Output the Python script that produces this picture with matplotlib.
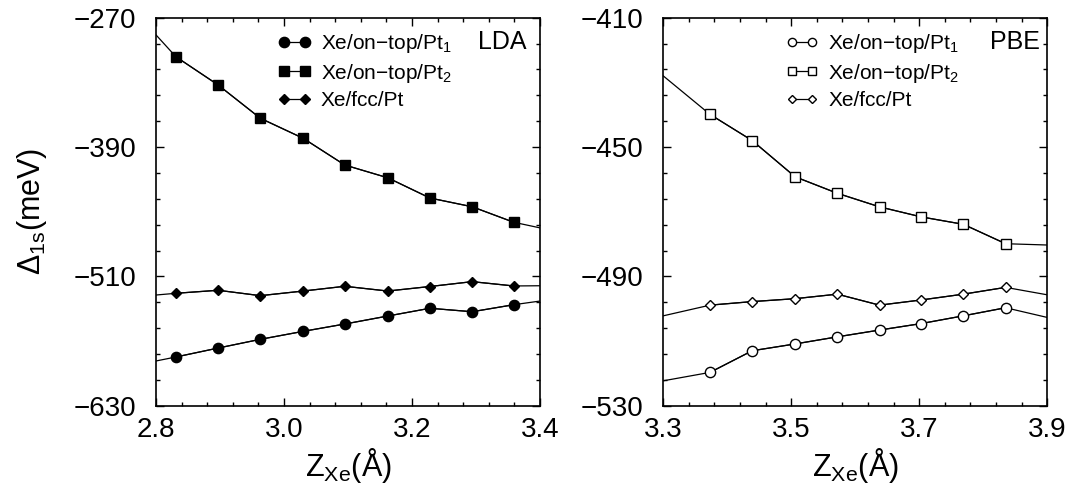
#!/usr/bin/env python3

import matplotlib
matplotlib.use("Agg")
import matplotlib.pyplot as plt
import numpy as np

plt.rcParams['font.family'] = ['Liberation Sans', 'DejaVu Sans']
plt.rcParams['mathtext.fontset'] = 'custom'
plt.rcParams['mathtext.rm'] = 'Liberation Sans'
plt.rcParams['mathtext.it'] = 'Liberation Sans:italic'


##########################################################################
# DATA
##########################################################################

# LDA, Xe height above the surface (Angstrom)
lda_z = [2.831, 2.897, 2.963, 3.030, 3.095, 3.162, 3.228, 3.294, 3.359]
lda_top1 = [-584.8, -576.5, -568.4, -561.0, -554.2, -546.8, -539.6, -542.8, -536.3]
lda_top2 = [-306.2, -332.4, -363.3, -381.9, -406.7, -418.5, -437.3, -445.4, -459.8]
lda_fcc = [-525.7, -522.9, -527.9, -523.6, -519.2, -523.6, -519.4, -514.9, -518.9]

# line ends at the frame edges (x = 2.8 and x = 3.4)
lda_edge_z = [2.8, 3.4]
lda_top1_edge = [-588.5, -532.9]
lda_top2_edge = [-286.0, -465.0]
lda_fcc_edge = [-527.3, -518.7]

# PBE
pbe_z = [3.373, 3.439, 3.506, 3.572, 3.638, 3.703, 3.769, 3.835]
pbe_top1 = [-519.7, -513.0, -510.9, -508.7, -506.6, -504.6, -502.2, -499.7]
pbe_top2 = [-439.9, -448.0, -459.2, -464.3, -468.5, -471.6, -473.9, -479.9]
pbe_fcc = [-498.9, -497.8, -496.9, -495.5, -498.9, -497.3, -495.5, -493.4]

pbe_edge_z = [3.3, 3.9]
pbe_top1_edge = [-522.3, -502.7]
pbe_top2_edge = [-428.0, -480.3]
pbe_fcc_edge = [-502.2, -495.7]

labels = ["Xe/on\u2212top/Pt$_1$", "Xe/on\u2212top/Pt$_2$", "Xe/fcc/Pt"]

# axis ticks
lda_xticks = [2.8, 3.0, 3.2, 3.4]
lda_yticks = [-630, -510, -390, -270]
pbe_xticks = [3.3, 3.5, 3.7, 3.9]
pbe_yticks = [-530, -490, -450, -410]


##########################################################################
# GRAPHING
##########################################################################

def draw_panel(ax, z, series, edge_z, edges, filled, markers, sizes):
    for ys, e, m, s, lab in zip(series, edges, markers, sizes, labels):
        # full line running out to the frame
        ax.plot([edge_z[0]] + z + [edge_z[1]], [e[0]] + ys + [e[1]],
                "-", color="black", lw=0.9)
        ax.plot(z, ys, "-", color="black", lw=0.9, marker=m, markersize=s,
                markerfacecolor="black" if filled else "white",
                markeredgecolor="black", markeredgewidth=1.0, label=lab)

    ax.tick_params(which="both", direction="in", top=True, right=True,
                   labelsize=20, width=1.0)
    ax.tick_params(which="major", length=6, pad=14)
    ax.tick_params(which="minor", length=3)
    ax.tick_params(axis="x", which="major", pad=8)
    for sp in ax.spines.values():
        sp.set_linewidth(1.2)
    ax.set_xlabel(r"Z$_{\rm Xe}$(Å)", fontsize=22, labelpad=2)


def set_ticks(ax, xt, yt):
    ax.set_xlim(xt[0], xt[-1])
    ax.set_ylim(yt[0], yt[-1])
    ax.set_xticks(xt)
    ax.set_xticklabels(["%.1f" % v for v in xt])
    ax.set_yticks(yt)
    ax.set_yticklabels(["\u2212%d" % -v for v in yt])
    # five minor intervals per major one
    ax.set_xticks(np.linspace(xt[0], xt[-1], 5 * (len(xt) - 1) + 1), minor=True)
    ax.set_yticks(np.linspace(yt[0], yt[-1], 5 * (len(yt) - 1) + 1), minor=True)


fig = plt.figure(figsize=(10.71, 4.92), dpi=100)
ax1 = fig.add_axes([0.1457, 0.1754, 0.3585, 0.7886])
ax2 = fig.add_axes([0.6193, 0.1754, 0.3585, 0.7886])

draw_panel(ax1, lda_z, [lda_top1, lda_top2, lda_fcc], lda_edge_z,
           [lda_top1_edge, lda_top2_edge, lda_fcc_edge], True,
           ["o", "s", "D"], [7.4, 6.6, 5.6])
draw_panel(ax2, pbe_z, [pbe_top1, pbe_top2, pbe_fcc], pbe_edge_z,
           [pbe_top1_edge, pbe_top2_edge, pbe_fcc_edge], False,
           ["o", "s", "D"], [7.4, 6.6, 5.6])

set_ticks(ax1, lda_xticks, lda_yticks)
set_ticks(ax2, pbe_xticks, pbe_yticks)

ax1.set_ylabel(r"$\Delta_{\rm 1s}$(meV)", fontsize=22, labelpad=18)
ax1.text(0.966, 0.968, "LDA", transform=ax1.transAxes, ha="right", va="top",
         fontsize=18)
ax2.text(0.981, 0.968, "PBE", transform=ax2.transAxes, ha="right", va="top",
         fontsize=18)

for ax, ms in ((ax1, 1.0), (ax2, 0.8)):
    ax.legend(loc="upper left", bbox_to_anchor=(0.318, 0.962), frameon=False,
              fontsize=15, numpoints=2, handlelength=1.6, handletextpad=0.45,
              labelspacing=0.3, borderpad=0, borderaxespad=0, markerscale=ms)

fig.savefig("out.png", dpi=100)
